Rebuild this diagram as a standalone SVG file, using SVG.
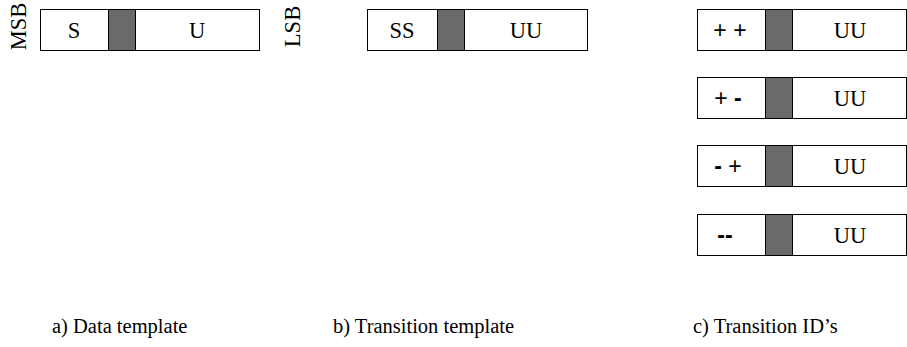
<svg xmlns="http://www.w3.org/2000/svg" width="907" height="347" viewBox="0 0 907 347">
<style>
.box{fill:#fff;stroke:#000;stroke-width:1}
.dark{fill:#6a6a6a;stroke:#000;stroke-width:1}
.t{font-family:"Liberation Serif",serif;font-size:22.5px;text-anchor:middle;fill:#000}
.sym{font-family:"Liberation Sans",sans-serif;font-size:23px;text-anchor:middle;fill:#000}
.cap{font-family:"Liberation Serif",serif;font-size:20.5px;fill:#000}
</style>
<rect width="907" height="347" fill="#fff"/>
<g id="data-template">
<rect class="box" x="40.5" y="9.5" width="219" height="41"/>
<rect class="dark" x="108.5" y="9.5" width="27" height="41"/>
<text class="t" x="74" y="37.5">S</text>
<text class="t" x="197" y="37.5">U</text>
<text class="t" font-size="21" transform="translate(26 26.5) rotate(-90)">MSB</text>
<text class="t" font-size="21" transform="translate(300 26.5) rotate(-90)">LSB</text>
</g>
<g id="transition-template">
<rect class="box" x="367.5" y="9.5" width="220" height="41"/>
<rect class="dark" x="437.5" y="9.5" width="27" height="41"/>
<text class="t" x="402" y="37.5">SS</text>
<text class="t" x="526" y="37.5">UU</text>
</g>
<g id="id-pp">
<rect class="box" x="697.5" y="9.5" width="209" height="41"/>
<rect class="dark" x="765.5" y="9.5" width="27" height="41"/>
<text class="sym" x="730" y="38">+ +</text>
<text class="t" x="850" y="37.5">UU</text>
</g>
<g id="id-pm">
<rect class="box" x="697.5" y="77.5" width="209" height="41"/>
<rect class="dark" x="765.5" y="77.5" width="27" height="41"/>
<text class="sym" x="728" y="106">+ <tspan font-weight="bold">-</tspan></text>
<text class="t" x="850" y="105.5">UU</text>
</g>
<g id="id-mp">
<rect class="box" x="697.5" y="145.5" width="209" height="41"/>
<rect class="dark" x="765.5" y="145.5" width="27" height="41"/>
<text class="sym" x="728" y="174"><tspan font-weight="bold">-</tspan> +</text>
<text class="t" x="850" y="173.5">UU</text>
</g>
<g id="id-mm">
<rect class="box" x="697.5" y="214.5" width="209" height="41"/>
<rect class="dark" x="765.5" y="214.5" width="27" height="41"/>
<text class="sym" x="725" y="243" font-weight="bold">--</text>
<text class="t" x="850" y="242.5">UU</text>
</g>
<g id="captions">
<text class="cap" x="52" y="333">a) Data template</text>
<text class="cap" x="333" y="333">b) Transition template</text>
<text class="cap" x="693" y="333">c) Transition ID’s</text>
</g>
<g id="connectors"/>
</svg>
